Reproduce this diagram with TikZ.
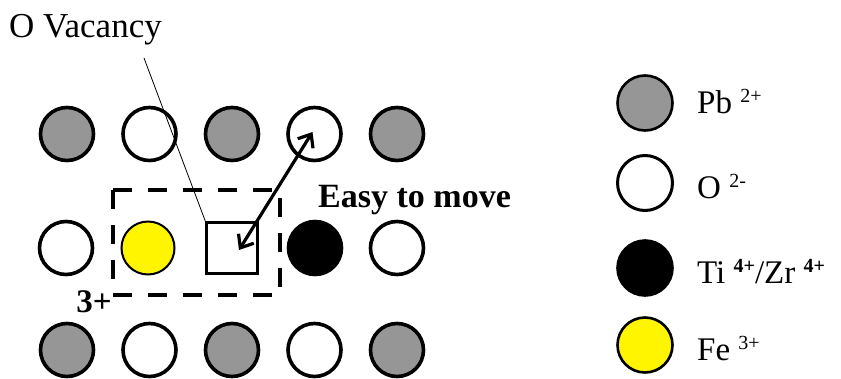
\documentclass[tikz,border=0pt]{standalone}
\usepackage{fontspec}
\setmainfont{Liberation Serif}
\usepackage{tikz}
\usetikzlibrary{arrows.meta,positioning,calc}
\definecolor{pbgray}{RGB}{150,150,150}
\definecolor{feyellow}{RGB}{255,245,0}

\tikzset{
  ion/.style={circle,draw=black,line width=3.6pt,minimum size=53pt,inner sep=0pt},
  pbion/.style={ion,fill=pbgray},
  oion/.style={ion,fill=white},
  tiion/.style={ion,fill=black},
  feion/.style={ion,fill=feyellow,line width=2pt},
  vacbox/.style={draw,line width=2.2pt,minimum size=51pt,inner sep=0pt},
  legtext/.style={anchor=base west,font=\fontsize{33}{34}\selectfont,inner sep=0pt}
}
\newcommand{\chargeup}[1]{\raisebox{11pt}{\fontsize{20}{20}\selectfont #1}}

\begin{document}
\begin{tikzpicture}[x=1pt,y=-1pt]
\useasboundingbox (0,0) rectangle (841,378);
% lattice
\foreach \t [count=\i] in {pbion,oion,pbion,oion,pbion}{
  \node[\t] (t\i) at ({67+82.5*(\i-1)},134) {};
  \node[\t] (b\i) at ({67+82.5*(\i-1)},350) {};
}
\node[oion] (m1) at (66,248) {};
\node[feion] (m2) at (148,248) {};
\node[vacbox] (vac) at (232,248) {};
\node[tiion] (m4) at (315,248) {};
\node[oion] (m5) at (397,248) {};
% defect complex
\draw[line width=3.4pt,dash pattern=on 19pt off 16pt] (113,190) rectangle (280,295);
\node[font=\bfseries\fontsize{33}{33}\selectfont,inner sep=0pt] (chg) at (94,302) {3+};
% labels
\node[legtext,font=\fontsize{35}{36}\selectfont] (vaclabel) at (9,37) {O Vacancy};
\coordinate (vacfoot) at (144,58);
\draw[line width=0.8pt] (vacfoot) -- (vac.north west);
\node[legtext,font=\bfseries\fontsize{34}{35}\selectfont] (easy) at (318,207) {Easy to move};
\coordinate (hopa) at ($(vac.center)+(7,2)$);
\coordinate (hopb) at ($(t4.center)+(-2,-2)$);
\draw[line width=3.2pt,{Straight Barb[length=11pt,width=18pt]}-{Straight Barb[length=11pt,width=18pt]}] (hopa) -- (hopb);
% legend
\node[pbion,line width=2.6pt,minimum size=55pt] (lpb) at (645,103) {};
\node[oion,line width=3pt,minimum size=55pt] (lo) at (645,183) {};
\node[tiion,line width=2.6pt,minimum size=55pt] (lti) at (645,268) {};
\node[feion,line width=2.6pt,minimum size=55pt] (lfe) at (645,345) {};
\node[legtext] (tpb) at (697,113) {Pb \chargeup{2+}};
\node[legtext] (to) at (697,198) {O \chargeup{2-}};
\node[legtext] (tti) at (697,283) {Ti \chargeup{\bfseries 4+}/Zr \chargeup{\bfseries 4+}};
\node[legtext] (tfe) at (697,360) {Fe \chargeup{3+}};
\end{tikzpicture}
\end{document}
